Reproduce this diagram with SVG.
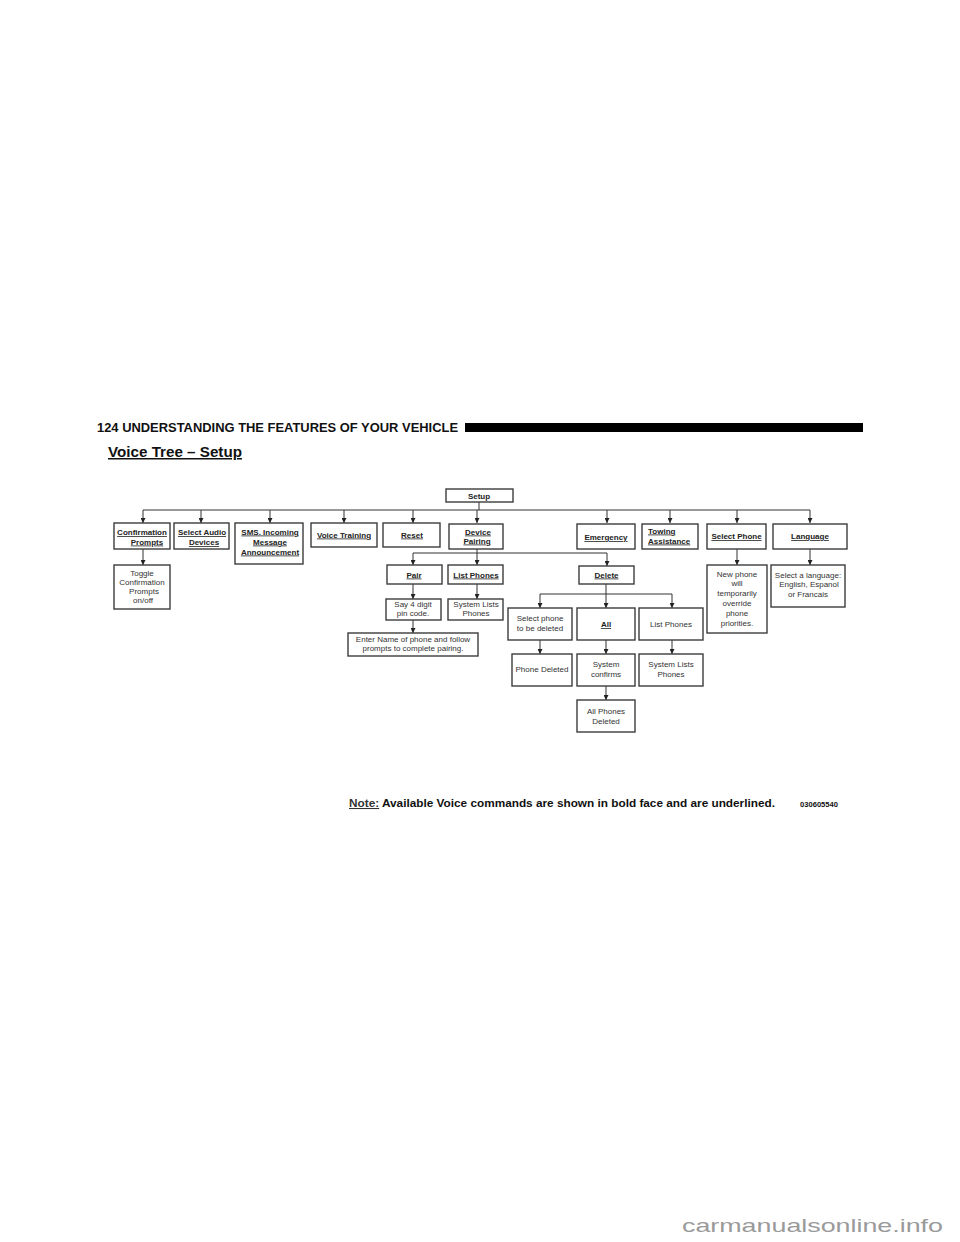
<svg xmlns="http://www.w3.org/2000/svg" width="960" height="1242" viewBox="0 0 960 1242">
<defs>
<marker id="ah" viewBox="0 0 6 6" refX="6" refY="3" markerWidth="5" markerHeight="5" markerUnits="userSpaceOnUse" orient="auto">
<path d="M0,0 L6,3 L0,6 z" fill="#222"/>
</marker>
</defs>
<style>
.box{fill:#fff;stroke:#3c3c3c;stroke-width:1.4}
.b{font-family:"Liberation Sans",Arial,sans-serif;font-weight:bold;font-size:8px;fill:#222;text-anchor:middle}
.u{text-decoration:underline}
.s{text-anchor:start}
.n{font-family:"Liberation Sans",Arial,sans-serif;font-size:8px;fill:#333;text-anchor:middle}
.c{fill:none;stroke:#333;stroke-width:1}
.ca{fill:none;stroke:#333;stroke-width:1;marker-end:url(#ah)}
</style>
<rect width="960" height="1242" fill="#fff"/>
<g id="header">
<text x="97" y="432" font-family="'Liberation Sans',Arial,sans-serif" font-weight="bold" font-size="12" fill="#111" textLength="361" lengthAdjust="spacingAndGlyphs">124 UNDERSTANDING THE FEATURES OF YOUR VEHICLE</text>
<rect x="465" y="423" width="398" height="9" fill="#000"/>
<text x="108" y="457" font-family="'Liberation Sans',Arial,sans-serif" font-weight="bold" font-size="15" fill="#111" text-decoration="underline" textLength="134" lengthAdjust="spacingAndGlyphs">Voice Tree – Setup</text>
</g>
<g id="connectors">
<path class="c" d="M479,502 V510"/>
<path class="c" d="M143,510 H810"/>
<path class="ca" d="M143,510 V523"/>
<path class="ca" d="M201,510 V523"/>
<path class="ca" d="M270,510 V523"/>
<path class="ca" d="M344,510 V523"/>
<path class="ca" d="M413,510 V523"/>
<path class="ca" d="M477,510 V523"/>
<path class="ca" d="M607,510 V523"/>
<path class="ca" d="M670,510 V523"/>
<path class="ca" d="M737,510 V523"/>
<path class="ca" d="M810,510 V523"/>
<path class="ca" d="M143,549 V565"/>
<path class="c" d="M477,549 V553 M413,553 H607"/>
<path class="ca" d="M413,553 V565"/>
<path class="ca" d="M477,553 V565"/>
<path class="ca" d="M607,553 V566"/>
<path class="ca" d="M413,584 V599"/>
<path class="ca" d="M477,584 V599"/>
<path class="ca" d="M413,620 V633"/>
<path class="c" d="M606,584 V594 M540,594 H672"/>
<path class="ca" d="M540,594 V608"/>
<path class="ca" d="M606,594 V608"/>
<path class="ca" d="M672,594 V608"/>
<path class="ca" d="M540,640 V654"/>
<path class="ca" d="M606,640 V654"/>
<path class="ca" d="M672,640 V654"/>
<path class="ca" d="M606,686 V700"/>
<path class="ca" d="M737,549 V565"/>
<path class="ca" d="M810,549 V565"/>
</g>
<g id="setup"><rect class="box" x="446" y="489" width="67" height="13"/><text class="b" x="479" y="498.5">Setup</text></g>
<g id="confirmation-prompts"><rect class="box" x="114" y="523" width="56" height="26"/><text class="b u" x="142" y="535">Confirmation</text><text class="b u" x="147" y="544.5">Prompts</text></g>
<g id="select-audio-devices"><rect class="box" x="174" y="523" width="55" height="26"/><text class="b u" x="202" y="535">Select Audio</text><text class="b u" x="204" y="545">Devices</text></g>
<g id="sms-incoming"><rect class="box" x="235" y="523" width="68" height="41"/><text class="b u" x="270" y="534.5">SMS. Incoming</text><text class="b u" x="270" y="544.5">Message</text><text class="b u" x="270" y="554.5">Announcement</text></g>
<g id="voice-training"><rect class="box" x="311" y="523" width="66" height="24"/><text class="b u" x="344" y="537.5">Voice Training</text></g>
<g id="reset"><rect class="box" x="383" y="523" width="57" height="24"/><text class="b u" x="412" y="537.5">Reset</text></g>
<g id="device-pairing"><rect class="box" x="449" y="524" width="54" height="25"/><text class="b u" x="478" y="534.5">Device</text><text class="b u" x="477" y="543.5">Pairing</text></g>
<g id="emergency"><rect class="box" x="577" y="524" width="58" height="25"/><text class="b u" x="606" y="540">Emergency </text></g>
<g id="towing-assistance"><rect class="box" x="642" y="524" width="56" height="25"/><text class="b u s" x="648" y="533.5">Towing</text><text class="b u s" x="648" y="543.5">Assistance </text></g>
<g id="select-phone"><rect class="box" x="707" y="524" width="59" height="25"/><text class="b u" x="736.5" y="539">Select Phone</text></g>
<g id="language"><rect class="box" x="773" y="524" width="74" height="25"/><text class="b u" x="810" y="539">Language</text></g>
<g id="toggle"><rect class="box" x="114" y="565" width="56" height="44"/><text class="n" x="142" y="575.5">Toggle</text><text class="n" x="142" y="584.5">Confirmation</text><text class="n" x="144" y="593.5">Prompts</text><text class="n" x="143" y="603">on/off</text></g>
<g id="pair"><rect class="box" x="387" y="565" width="55" height="19"/><text class="b u" x="414" y="577.5">Pair</text></g>
<g id="list-phones-1"><rect class="box" x="448" y="565" width="55" height="19"/><text class="b u" x="476" y="577.5">List Phones</text></g>
<g id="say-pin"><rect class="box" x="386" y="599" width="55" height="21"/><text class="n" x="413" y="606.5">Say 4 digit</text><text class="n" x="413" y="615.5">pin code.</text></g>
<g id="system-lists-1"><rect class="box" x="448" y="599" width="55" height="21"/><text class="n" x="476" y="606.5">System Lists</text><text class="n" x="476" y="615.5">Phones</text></g>
<g id="enter-name"><rect class="box" x="348" y="633" width="130" height="23"/><text class="n" x="413" y="641.5">Enter Name of phone and follow</text><text class="n" x="413" y="651">prompts to complete pairing.</text></g>
<g id="delete"><rect class="box" x="579" y="566" width="55" height="18"/><text class="b u" x="606.5" y="577.5">Delete</text></g>
<g id="select-phone-delete"><rect class="box" x="508" y="608" width="64" height="32"/><text class="n" x="540" y="621">Select phone</text><text class="n" x="540" y="631">to be deleted</text></g>
<g id="all"><rect class="box" x="577" y="608" width="58" height="32"/><text class="b u" x="606" y="627">All</text></g>
<g id="list-phones-2"><rect class="box" x="639" y="608" width="64" height="32"/><text class="n" x="671" y="627">List Phones</text></g>
<g id="phone-deleted"><rect class="box" x="512" y="654" width="60" height="32"/><text class="n" x="542" y="672">Phone Deleted</text></g>
<g id="system-confirms"><rect class="box" x="577" y="654" width="58" height="32"/><text class="n" x="606" y="667">System</text><text class="n" x="606" y="676.5">confirms</text></g>
<g id="system-lists-2"><rect class="box" x="639" y="654" width="64" height="32"/><text class="n" x="671" y="667">System Lists</text><text class="n" x="671" y="676.5">Phones</text></g>
<g id="all-phones-deleted"><rect class="box" x="577" y="700" width="58" height="32"/><text class="n" x="606" y="714">All Phones</text><text class="n" x="606" y="723.5">Deleted</text></g>
<g id="new-phone"><rect class="box" x="707" y="565" width="60" height="68"/><text class="n" x="737" y="576.5">New phone</text><text class="n" x="737" y="586">will</text><text class="n" x="737" y="596">temporarily</text><text class="n" x="737" y="605.5">override</text><text class="n" x="737" y="615.5">phone</text><text class="n" x="737" y="625.5">priorities.</text></g>
<g id="select-language"><rect class="box" x="771" y="565" width="74" height="42"/><text class="n" x="808" y="577.5">Select a language:</text><text class="n" x="809" y="587">English, Espanol</text><text class="n" x="808" y="597">or Francais</text></g>
<g id="note">
<text x="349" y="807" font-family="'Liberation Sans',Arial,sans-serif" font-weight="bold" font-size="10.5" fill="#111" textLength="426" lengthAdjust="spacingAndGlyphs"><tspan text-decoration="underline" fill="#333">Note:</tspan> Available Voice commands are shown in bold face and are underlined.</text>
<text x="800" y="806.5" font-family="'Liberation Sans',Arial,sans-serif" font-weight="bold" font-size="7.5" fill="#111" textLength="38" lengthAdjust="spacingAndGlyphs">030605540</text>
</g>
<g id="watermark"><text x="682" y="1232" font-family="'Liberation Sans',Arial,sans-serif" font-size="19" fill="#9a9a9a" textLength="261" lengthAdjust="spacingAndGlyphs">carmanualsonline.info</text></g>
</svg>
